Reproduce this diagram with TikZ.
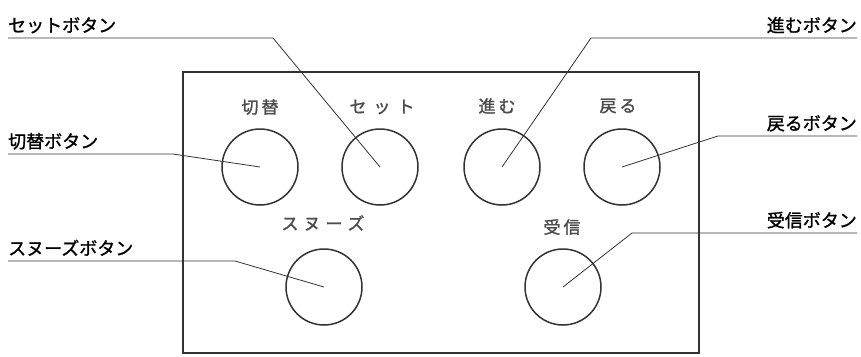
\documentclass[tikz,border=0pt]{standalone}
\usepackage{fontspec}
\setmainfont{Noto Sans CJK JP}
\newfontfamily\calloutfont{Noto Sans CJK JP}[FakeBold=1.2]
\newfontfamily\keyfont{Noto Sans CJK JP}[FakeBold=1.5]
\usetikzlibrary{positioning}

\begin{document}
\begin{tikzpicture}[
    x=1pt,y=-1pt,
    btn/.style={draw=black!80,line width=1.5pt,circle,minimum size=76pt,inner sep=0pt},
    keylabel/.style={font=\keyfont\fontsize{17}{18}\selectfont,text=black!70,inner sep=0pt},
    callout/.style={font=\calloutfont\fontsize{18}{20}\selectfont,inner sep=0pt},
    leader/.style={draw=black!80,line width=0.8pt}
  ]
    \useasboundingbox (0,0) rectangle (861,356);

    % 操作パネルとボタン
    \draw[black!80,line width=2.2pt] (183,72) rectangle (699,353);
    \node[btn] (kirikae) at (260,167) {};
    \node[btn] (set) at (380,167) {};
    \node[btn] (susumu) at (502,167) {};
    \node[btn] (modoru) at (622,167) {};
    \node[btn] (snooze) at (324,287) {};
    \node[btn] (jushin) at (563,287) {};

    % パネル上の表示
    \node[keylabel] (kirikaeKey) at (260,107) {切\hspace{3pt}替};
    \node[keylabel] (setKey) at (382,107) {セ\hspace{7pt}ッ\hspace{7pt}ト};
    \node[keylabel] (susumuKey) at (497,106) {進\hspace{3pt}む};
    \node[keylabel] (modoruKey) at (618,106) {戻\hspace{3pt}る};
    \node[keylabel] (snoozeKey) at (323,223) {ス\hspace{5pt}ヌ\hspace{5pt}ー\hspace{5pt}ズ};
    \node[keylabel] (jushinKey) at (562,227) {受\hspace{3pt}信};

    % 引き出し線(左側)
    \node[callout,anchor=base west] (setLbl) at (8,32) {セットボタン};
    \node[callout,anchor=base west] (kirikaeLbl) at (8,148) {切替ボタン};
    \node[callout,anchor=base west] (snoozeLbl) at (8,255) {スヌーズボタン};
    \coordinate (setBend) at (273,38);
    \coordinate (kirikaeBend) at (173,154);
    \coordinate (snoozeBend) at (235,261);
    \draw[leader] (setLbl.west |- setBend) -- (setBend) -- (set.center);
    \draw[leader] (kirikaeLbl.west |- kirikaeBend) -- (kirikaeBend) -- (kirikae.center);
    \draw[leader] (snoozeLbl.west |- snoozeBend) -- (snoozeBend) -- (snooze.center);

    % 引き出し線(右側)
    \node[callout,anchor=base east] (susumuLbl) at (857,32) {進むボタン};
    \node[callout,anchor=base east] (modoruLbl) at (857,130) {戻るボタン};
    \node[callout,anchor=base east] (jushinLbl) at (857,227) {受信ボタン};
    \coordinate (susumuBend) at (591,38);
    \coordinate (modoruBend) at (718,136);
    \coordinate (jushinBend) at (632,233);
    \draw[leader] (susumuLbl.east |- susumuBend) -- (susumuBend) -- (susumu.center);
    \draw[leader] (modoruLbl.east |- modoruBend) -- (modoruBend) -- (modoru.center);
    \draw[leader] (jushinLbl.east |- jushinBend) -- (jushinBend) -- (jushin.center);
  \end{tikzpicture}
\end{document}
